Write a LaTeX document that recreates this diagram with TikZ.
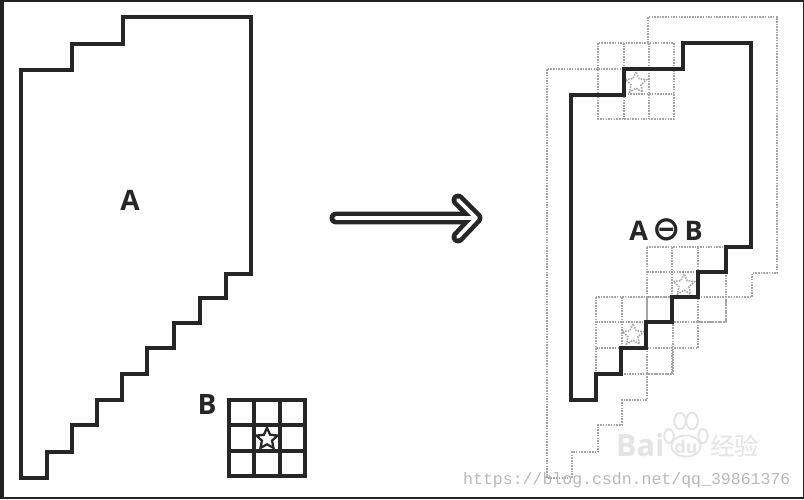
\documentclass[tikz,border=0pt]{standalone}
\usepackage{fontspec}
\usepackage{tikz}
\usetikzlibrary{shapes.geometric}
\setmainfont{Open Sans}
\newfontfamily\symbolfont{DejaVu Sans}
\newfontfamily\markfont{Liberation Mono}
\newfontfamily\cjkfont{Noto Sans CJK SC}
\definecolor{framegray}{RGB}{34,34,34}
\definecolor{outlinegray}{RGB}{38,38,38}
\definecolor{dotgray}{RGB}{165,165,165}
\definecolor{markgray}{RGB}{185,185,185}
\definecolor{baidugray}{RGB}{228,228,228}
\tikzset{
    % Solid outlines of the two regions
    regionline/.style={draw=outlinegray, line width=2.7pt, line join=miter},
    % Structuring element grid, as drawn beside A
    gridline/.style={draw=outlinegray, line width=2.7pt},
    % Dotted copies on the right
    dotline/.style={draw=dotgray, line width=1.3pt, densely dotted},
    % Labels
    setlabel/.style={font=\fontsize{24}{24}\selectfont\bfseries, text=outlinegray, inner sep=0pt},
    % Watermark
    pawtoe/.style={ellipse, draw=baidugray, line width=1.6pt, inner sep=0pt},
}
\begin{document}
\begin{tikzpicture}[x=0.03cm,y=-0.03cm,
   starmark/.style={star, star points=5, star point ratio=2.1, minimum size=19pt, inner sep=0pt},
   arrowline/.style={line cap=round, line join=round}]
  \useasboundingbox (0,0) rectangle (804,499);
  % frame
  \fill[framegray] (0,0) rectangle (804,499);
  \fill[white] (3.5,2) rectangle (803,497);

  % watermarks
  \node[font=\fontsize{26}{26}\selectfont\bfseries, text=baidugray, inner sep=0pt, anchor=west] (baidu) at (616,445) {Bai};
  \node[pawtoe, minimum width=10pt, minimum height=14pt] (toeA) at (680,421) {};
  \node[pawtoe, minimum width=10pt, minimum height=14pt] (toeB) at (692,421) {};
  \node[pawtoe, minimum width=8pt, minimum height=12pt] (toeC) at (669,436) {};
  \node[pawtoe, minimum width=8pt, minimum height=12pt] (toeD) at (703,436) {};
  \node[pawtoe, minimum width=25pt, minimum height=18pt] (pawpad) at (686,446) {};
  \node[font=\fontsize{15}{15}\selectfont\bfseries, text=baidugray, inner sep=0pt] (baidudu) at (686,447) {du};
  \node[font=\cjkfont\fontsize{21}{21}\selectfont, text=baidugray, inner sep=0pt, anchor=west] (jingyan) at (710,446) {经验};

  % region A
  \draw[regionline] (123,17) -- (251,17) -- (251,274) -- (226,274) -- (226,298) -- (200,298)
     -- (200,323) -- (174,323) -- (174,348) -- (147,348) -- (147,374) -- (122,374)
     -- (122,400) -- (97,400) -- (97,425) -- (72,425) -- (72,452) -- (47,452)
     -- (47,478) -- (21,478) -- (21,70) -- (72,70) -- (72,44) -- (123,44) -- cycle;
  \node[setlabel] (labelA) at (130,200) {A};

  % element B
  \node[setlabel] (labelB) at (207,404) {B};
  \draw[gridline] (229,400) rectangle (305,476);
  \draw[gridline] (254,400) -- (254,476);
  \draw[gridline] (280,400) -- (280,476);
  \draw[gridline] (229,425) -- (305,425);
  \draw[gridline] (229,451) -- (305,451);
  \node[starmark, draw=outlinegray, fill=white, line width=1.9pt] (starB) at (267,439) {};

  % arrow
  \coordinate (arrowtail) at (336,218);
  \coordinate (arrowtip) at (476,218);
  \coordinate (arrowup) at (458,200);
  \coordinate (arrowdown) at (458,237);
  \draw[arrowline, outlinegray, line width=11pt] (arrowtail) -- (arrowtip) (arrowup) -- (arrowtip) -- (arrowdown);
  \draw[arrowline, white, line width=3.2pt] (arrowtail) -- (arrowtip) (arrowup) -- (arrowtip) -- (arrowdown);

  % outer dotted outline
  \draw[dotline] (648,43) -- (648,17) -- (777,17) -- (777,273) -- (752,273) -- (752,297)
     -- (726,297) -- (726,322) -- (698,322) -- (698,348) -- (672,348) -- (672,374)
     -- (647,374) -- (647,400) -- (622,400) -- (622,425) -- (598,425) -- (598,452)
     -- (572,452) -- (572,478) -- (547,478) -- (547,69) -- (598,69);

  % dotted element, top
  \draw[dotline] (598,43) rectangle (674,119);
  \draw[dotline] (624,43) -- (624,119);
  \draw[dotline] (649,43) -- (649,119);
  \draw[dotline] (598,69) -- (674,69);
  \draw[dotline] (598,94) -- (674,94);
  \node[starmark, dotline] (starTop) at (636,83) {};

  % dotted element, middle
  \draw[dotline] (647,247) rectangle (726,322);
  \draw[dotline] (672,247) -- (672,322);
  \draw[dotline] (698,247) -- (698,322);
  \draw[dotline] (647,272) -- (726,272);
  \draw[dotline] (647,297) -- (726,297);
  \node[starmark, dotline] (starMid) at (684,285) {};

  % dotted element, bottom
  \draw[dotline] (596,297) rectangle (673,374);
  \draw[dotline] (622,297) -- (622,374);
  \draw[dotline] (647,297) -- (647,374);
  \draw[dotline] (596,322) -- (673,322);
  \draw[dotline] (596,348) -- (673,348);
  \node[starmark, dotline] (starLow) at (633,335) {};

  % eroded region
  \draw[regionline] (683,43) -- (751,43) -- (751,247) -- (726,247) -- (726,272) -- (698,272)
     -- (698,297) -- (672,297) -- (672,322) -- (646,322) -- (646,348) -- (621,348)
     -- (621,374) -- (596,374) -- (596,400) -- (571,400) -- (571,95) -- (624,95)
     -- (624,69) -- (683,69) -- cycle;
  \node[setlabel, font=\fontsize{23}{23}\selectfont\bfseries] (labelAB) at (666,230)
     {A\hspace{3.5pt}{\symbolfont\fontsize{29}{29}\selectfont ⊖}\hspace{3.5pt}B};

  \node[font=\markfont\fontsize{14.1}{14.1}\selectfont, text=markgray, inner sep=0pt, anchor=west] (csdnmark) at (463,480) {https://blog.csdn.net/qq\_39861376};
\end{tikzpicture}
\end{document}
